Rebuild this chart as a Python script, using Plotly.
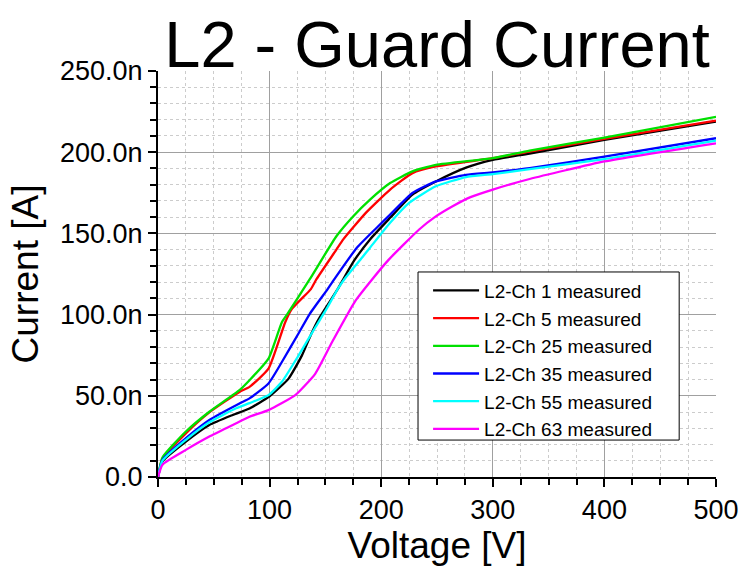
import plotly.graph_objects as go

# Guard current vs bias voltage for layer L2 (current in nA)
v_ch1 = [0, 4, 25, 46, 67, 82, 100, 117, 129, 138, 144, 161, 166, 176, 190, 208, 228, 249, 276, 300, 333, 400, 500]
i_ch1 = [0, 9.6, 21.8, 32, 38.2, 42.2, 49.7, 60.6, 74.9, 89.2, 97.3, 115.7, 121.8, 133.5, 146.3, 159.6, 173.9, 182, 190.5, 195.3, 199.2, 207.6, 218.8]

v_ch5 = [0, 4, 25, 46, 73, 82, 99, 114, 120, 137, 142, 160, 166, 186, 208, 228, 249, 300, 333, 400, 500]
i_ch5 = [0, 11.2, 26.9, 39.8, 52.4, 55.5, 66.7, 95.3, 103.5, 115.7, 121.8, 140.2, 146.3, 162.5, 177, 187.1, 191.2, 196.3, 200.4, 208.2, 219.4]

v_ch25 = [0, 4, 25, 46, 73, 82, 99, 111, 116, 136, 160, 175, 190, 208, 228, 249, 300, 333, 400, 500]
i_ch25 = [0, 12, 28, 40.2, 53.5, 59.6, 72.9, 95.3, 100.4, 121.8, 148.4, 160.6, 170.8, 181, 188.2, 192.2, 196.3, 201, 209, 221.8]

v_ch35 = [0, 4, 25, 46, 73, 82, 99, 111, 126, 136, 152, 158, 178, 196, 208, 228, 249, 276, 300, 333, 400, 500]
i_ch35 = [0, 10.6, 23.9, 35.1, 45.3, 48.4, 57.6, 70.8, 88.5, 100.5, 115.7, 121.8, 141, 153.5, 161.6, 174.9, 182, 186.1, 187.6, 190.2, 197.3, 208.6]

v_ch55 = [0, 4, 25, 46, 70, 82, 99, 111, 126, 141, 151, 161, 167, 184, 190, 208, 225, 249, 276, 300, 333, 400, 500]
i_ch55 = [0, 10, 22.9, 33.7, 42.3, 45.5, 50.4, 58.6, 74.9, 92.2, 103.5, 115.7, 121.8, 136.1, 141.2, 156.5, 168.8, 179, 184.7, 186.5, 189.6, 195.7, 207.1]

v_ch63 = [0, 4, 25, 46, 67, 82, 99, 123, 141, 156, 177, 192, 207, 234, 248, 264, 280, 300, 333, 400, 500]
i_ch63 = [0, 7.6, 16.7, 24.9, 32, 37.1, 41.2, 50.4, 63.7, 83.1, 108.6, 121.8, 134, 152.4, 160, 166.7, 172.3, 177, 183.5, 194.3, 205.5]

series = [
    ("L2-Ch 1 measured", v_ch1, i_ch1, "#000000"),
    ("L2-Ch 5 measured", v_ch5, i_ch5, "#ff0000"),
    ("L2-Ch 25 measured", v_ch25, i_ch25, "#00e000"),
    ("L2-Ch 35 measured", v_ch35, i_ch35, "#0000ff"),
    ("L2-Ch 55 measured", v_ch55, i_ch55, "#00ffff"),
    ("L2-Ch 63 measured", v_ch63, i_ch63, "#ff00ff"),
]

y_tickvals = [0, 50, 100, 150, 200, 250]
y_ticktext = ["0.0", "50.0n", "100.0n", "150.0n", "200.0n", "250.0n"]
x_tickvals = [0, 100, 200, 300, 400, 500]

FONT = "Liberation Sans, Arial, sans-serif"

fig = go.Figure()
for name, v, i, color in series:
    fig.add_trace(go.Scatter(x=v, y=i, mode="lines", name=name,
                             line=dict(color=color, width=2.3, shape="spline", smoothing=0.5)))

# white legend frame
fig.add_shape(type="rect", xref="paper", yref="paper",
              x0=0.466, x1=0.934, y0=0.091, y1=0.505,
              line=dict(color="black", width=1), fillcolor="white", layer="above")

fig.update_layout(
    width=741, height=569,
    margin=dict(l=158, r=25, t=71, b=92, autoexpand=False),
    paper_bgcolor="white", plot_bgcolor="white",
    font=dict(family=FONT, color="black"),
    title=dict(text="L2 - Guard Current", font=dict(size=65, family=FONT, color="black"),
               x=0.5, xref="paper", xanchor="center", y=0.963, yanchor="top"),
    legend=dict(x=0.484, y=0.506, xanchor="left", yanchor="top",
                bgcolor="rgba(0,0,0,0)", borderwidth=0, itemwidth=46,
                font=dict(size=19, family=FONT, color="black")),
)

fig.update_xaxes(
    range=[0, 500], tickmode="array", tickvals=x_tickvals, automargin=False,
    ticks="outside", ticklen=8, tickwidth=1.5, tickcolor="black",
    showline=True, linecolor="black", linewidth=2,
    showgrid=True, gridcolor="#a0a0a0", gridwidth=1,
    zeroline=False,
    tickfont=dict(size=27),
    title=dict(text="Voltage [V]", font=dict(size=37), standoff=8),
    minor=dict(tickmode="linear", tick0=0, dtick=25, ticks="outside", ticklen=6,
               tickcolor="black", showgrid=True, gridcolor="#cccccc", griddash="dot"),
)
fig.update_yaxes(
    range=[0, 250], tickmode="array", tickvals=y_tickvals, ticktext=y_ticktext, automargin=False,
    ticks="outside", ticklen=8, tickwidth=1.5, tickcolor="black",
    showline=True, linecolor="black", linewidth=2,
    showgrid=True, gridcolor="#a0a0a0", gridwidth=1,
    zeroline=False,
    tickfont=dict(size=27),
    title=dict(text="Current [A]", font=dict(size=37), standoff=10),
    minor=dict(tickmode="linear", tick0=0, dtick=10, ticks="outside", ticklen=6,
               tickcolor="black", showgrid=True, gridcolor="#cccccc", griddash="dot"),
)

fig.write_html("out.html")
